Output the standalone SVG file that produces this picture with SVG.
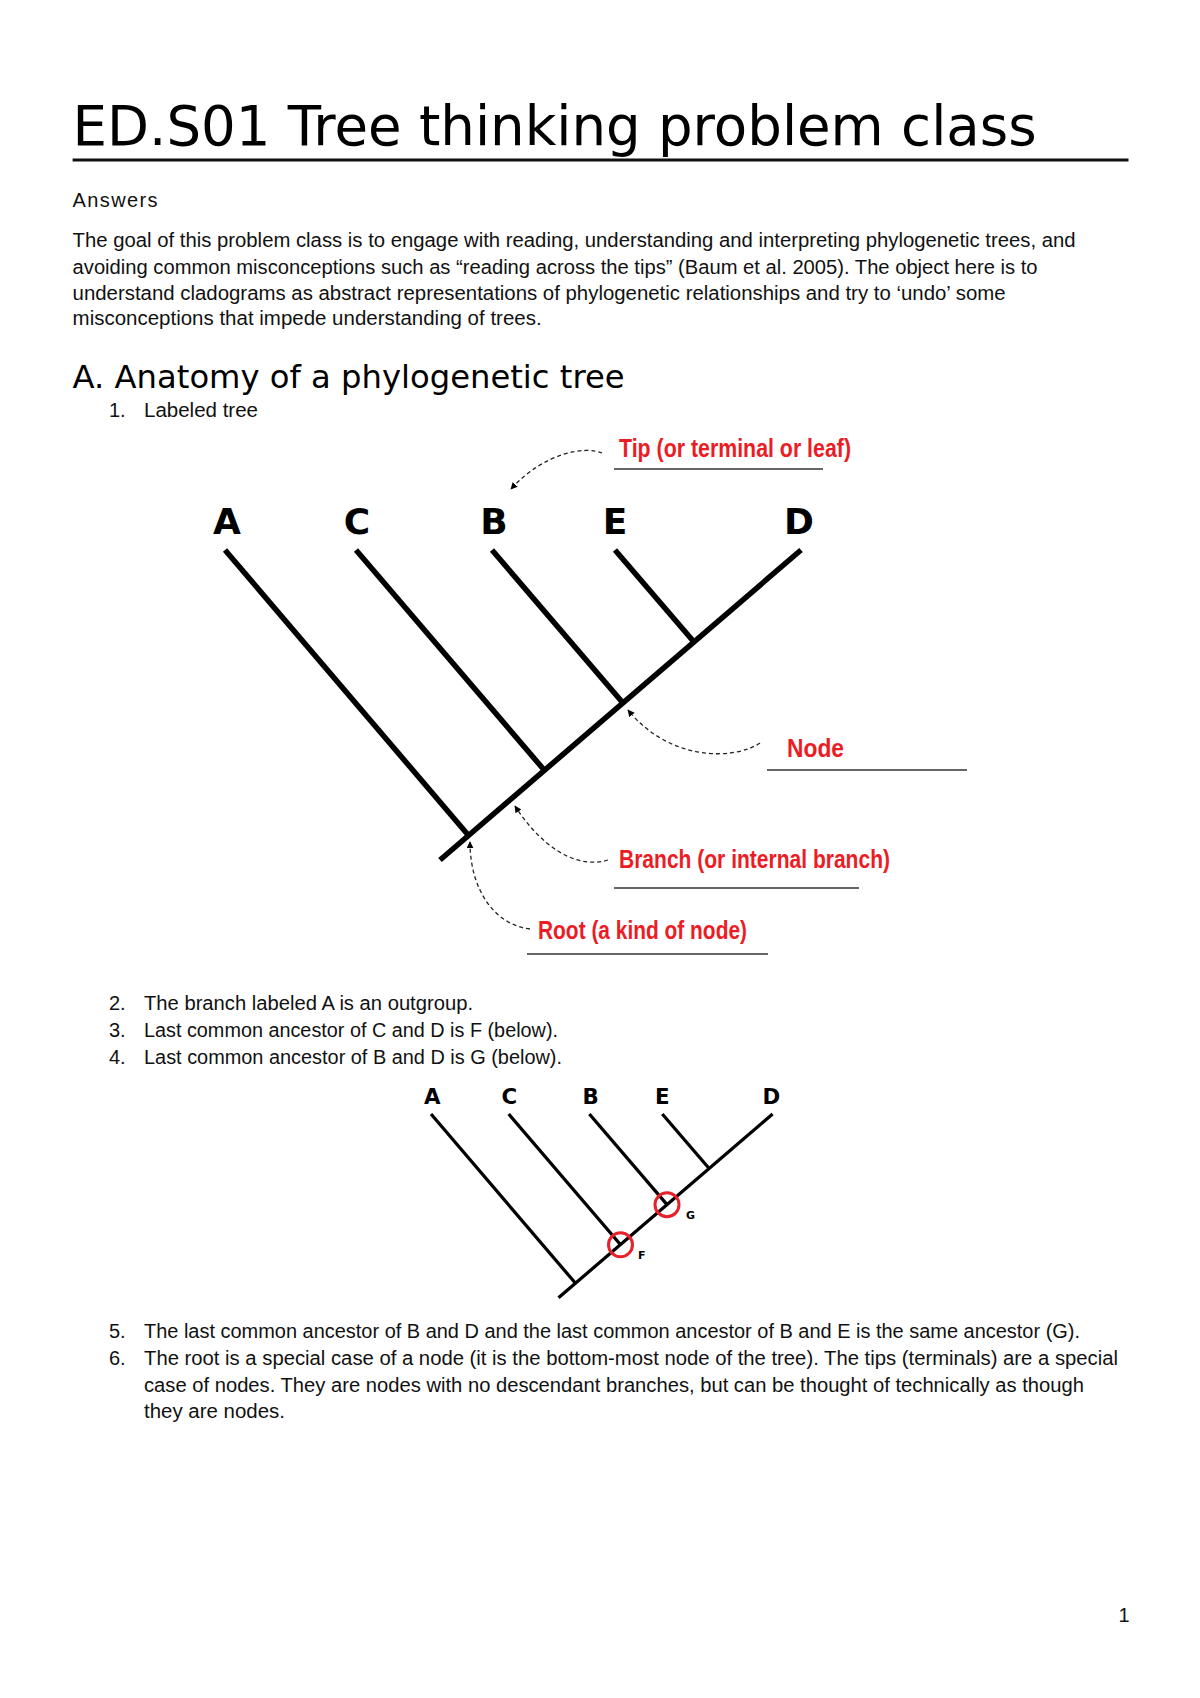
<svg xmlns="http://www.w3.org/2000/svg" width="1200" height="1698" viewBox="0 0 1200 1698">
<style>
.title{font-family:"DejaVu Sans",sans-serif;font-size:55px;fill:#000}
.h2{font-family:"DejaVu Sans",sans-serif;font-size:32px;fill:#000}
.body{font-family:"Liberation Sans",Arial,sans-serif;font-size:20px;fill:#111}
.lbl{font-family:"DejaVu Sans",sans-serif;font-weight:bold;font-size:36px;fill:#000;text-anchor:middle}
.small{font-family:"DejaVu Sans",sans-serif;font-weight:bold;font-size:11px;fill:#000}
.red{font-family:"Liberation Sans",Arial,sans-serif;font-weight:bold;font-size:25px;fill:#ec1c24}
.br{stroke:#000;stroke-width:5.5;fill:none}
.ul{stroke:#333;stroke-width:1.6}
.dash{stroke:#222;stroke-width:1.3;fill:none;stroke-dasharray:4 3}
.circ{stroke:#e8202a;stroke-width:3;fill:none}
</style>
<defs>
<marker id="ah" viewBox="0 0 10 10" refX="9" refY="5" markerWidth="7" markerHeight="7" markerUnits="userSpaceOnUse" orient="auto">
<path d="M0,0 L10,5 L0,10 z" fill="#000"/>
</marker>
</defs>
<rect width="1200" height="1698" fill="#fff"/>

<g id="header">
<text class="title" x="72.6" y="145" textLength="964" lengthAdjust="spacingAndGlyphs">ED.S01 Tree thinking problem class</text>
<line x1="72.6" y1="160" x2="1128.5" y2="160" stroke="#111" stroke-width="3"/>
<text class="body" x="72.6" y="207" font-size="17" textLength="85">Answers</text>
<text class="body" x="72.6" y="247" textLength="1003" lengthAdjust="spacingAndGlyphs">The goal of this problem class is to engage with reading, understanding and interpreting phylogenetic trees, and</text>
<text class="body" x="72.6" y="274" textLength="965" lengthAdjust="spacingAndGlyphs">avoiding common misconceptions such as “reading across the tips” (Baum et al. 2005). The object here is to</text>
<text class="body" x="72.6" y="300" textLength="933" lengthAdjust="spacingAndGlyphs">understand cladograms as abstract representations of phylogenetic relationships and try to ‘undo’ some</text>
<text class="body" x="72.6" y="325" textLength="469" lengthAdjust="spacingAndGlyphs">misconceptions that impede understanding of trees.</text>
<text class="h2" x="72.6" y="388" textLength="552" lengthAdjust="spacingAndGlyphs">A. Anatomy of a phylogenetic tree</text>
<text class="body" x="109" y="417">1.</text>
<text class="body" x="144" y="417" textLength="114" lengthAdjust="spacingAndGlyphs">Labeled tree</text>
</g>

<g id="tree1">
<g id="tree1-labels">
<text class="lbl" x="227" y="534">A</text>
<text class="lbl" x="357" y="534">C</text>
<text class="lbl" x="494" y="534">B</text>
<text class="lbl" x="615" y="534">E</text>
<text class="lbl" x="799" y="534">D</text>
</g>
<g id="tree1-branches">
<line class="br" x1="225" y1="550" x2="469" y2="836"/>
<line class="br" x1="356" y1="550" x2="545" y2="771"/>
<line class="br" x1="492" y1="550" x2="623" y2="703"/>
<line class="br" x1="615" y1="550" x2="694" y2="642"/>
<line class="br" x1="801" y1="550" x2="440" y2="860"/>
</g>
</g>

<g id="annotations">
<g id="tip-label">
<text class="red" x="619" y="457" textLength="232" lengthAdjust="spacingAndGlyphs">Tip (or terminal or leaf)</text>
<line class="ul" x1="614" y1="469" x2="823" y2="469"/>
</g>
<g id="node-label">
<text class="red" x="787" y="757" textLength="57" lengthAdjust="spacingAndGlyphs">Node</text>
<line class="ul" x1="767" y1="770" x2="967" y2="770"/>
</g>
<g id="branch-label">
<text class="red" x="619" y="868" textLength="271" lengthAdjust="spacingAndGlyphs">Branch (or internal branch)</text>
<line class="ul" x1="614" y1="888" x2="859" y2="888"/>
</g>
<g id="root-label">
<text class="red" x="538" y="939" textLength="209" lengthAdjust="spacingAndGlyphs">Root (a kind of node)</text>
<line class="ul" x1="527" y1="954" x2="768" y2="954"/>
</g>
</g>

<g id="connectors">
<path class="dash" d="M602,453 C585,446 545,452 511,489" marker-end="url(#ah)"/>
<path class="dash" d="M760,743 C735,760 670,762 628,710" marker-end="url(#ah)"/>
<path class="dash" d="M608,860 C575,870 540,845 515,806" marker-end="url(#ah)"/>
<path class="dash" d="M530,929 C495,925 470,890 470,842" marker-end="url(#ah)"/>
</g>

<g id="list-mid">
<text class="body" x="109" y="1010">2.</text>
<text class="body" x="144" y="1010" textLength="329" lengthAdjust="spacingAndGlyphs">The branch labeled A is an outgroup.</text>
<text class="body" x="109" y="1037">3.</text>
<text class="body" x="144" y="1037" textLength="414" lengthAdjust="spacingAndGlyphs">Last common ancestor of C and D is F (below).</text>
<text class="body" x="109" y="1064">4.</text>
<text class="body" x="144" y="1064" textLength="418" lengthAdjust="spacingAndGlyphs">Last common ancestor of B and D is G (below).</text>
</g>

<g id="tree2">
<g transform="matrix(0.593 0 0 0.593 297.6 787.8)">
<text class="lbl" x="227" y="534">A</text>
<text class="lbl" x="357" y="534">C</text>
<text class="lbl" x="494" y="534">B</text>
<text class="lbl" x="615" y="534">E</text>
<text class="lbl" x="799" y="534">D</text>
<line class="br" x1="225" y1="550" x2="469" y2="836"/>
<line class="br" x1="356" y1="550" x2="545" y2="771"/>
<line class="br" x1="492" y1="550" x2="623" y2="703"/>
<line class="br" x1="615" y1="550" x2="694" y2="642"/>
<line class="br" x1="801" y1="550" x2="440" y2="860"/>
</g>
<g id="node-F">
<circle class="circ" cx="620.5" cy="1244.8" r="12"/>
<text class="small" x="638" y="1259">F</text>
</g>
<g id="node-G">
<circle class="circ" cx="667" cy="1204.7" r="12"/>
<text class="small" x="686" y="1219">G</text>
</g>
</g>

<g id="list-bottom">
<text class="body" x="109" y="1338">5.</text>
<text class="body" x="144" y="1338" textLength="936" lengthAdjust="spacingAndGlyphs">The last common ancestor of B and D and the last common ancestor of B and E is the same ancestor (G).</text>
<text class="body" x="109" y="1365">6.</text>
<text class="body" x="144" y="1365" textLength="974" lengthAdjust="spacingAndGlyphs">The root is a special case of a node (it is the bottom-most node of the tree). The tips (terminals) are a special</text>
<text class="body" x="144" y="1392" textLength="940" lengthAdjust="spacingAndGlyphs">case of nodes. They are nodes with no descendant branches, but can be thought of technically as though</text>
<text class="body" x="144" y="1418" textLength="141" lengthAdjust="spacingAndGlyphs">they are nodes.</text>
</g>

<text class="body" x="1124" y="1622" font-size="16" text-anchor="middle">1</text>
</svg>
